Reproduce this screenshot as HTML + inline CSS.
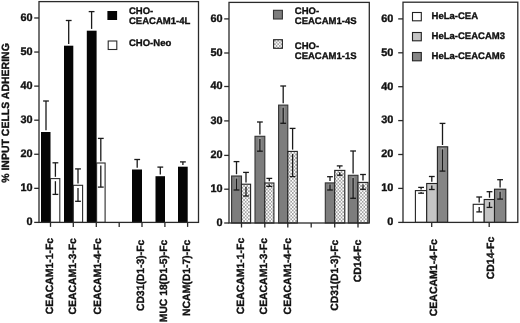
<!DOCTYPE html><html><head><meta charset="utf-8"><style>html,body{margin:0;padding:0;background:#fff;}svg{display:block;filter:grayscale(1);}</style></head><body>
<svg width="520" height="323" viewBox="0 0 520 323">
<defs><pattern id="dots" patternUnits="userSpaceOnUse" x="0.3" y="0.5" width="3.25" height="3.5"><rect width="3.25" height="3.5" fill="#fff"/><circle cx="1.625" cy="1.75" r="0.72" fill="#3a3a3a"/><circle cx="0" cy="0" r="0.72" fill="#3a3a3a"/><circle cx="3.25" cy="0" r="0.72" fill="#3a3a3a"/><circle cx="0" cy="3.5" r="0.72" fill="#3a3a3a"/><circle cx="3.25" cy="3.5" r="0.72" fill="#3a3a3a"/></pattern></defs>
<rect width="520" height="323" fill="#fff"/>
<rect x="41" y="132" width="9.50" height="90.40" fill="#050505"/>
<rect x="50.5" y="178.6" width="9.30" height="43.80" fill="#fff" stroke="#2a2a2a" stroke-width="1.1"/>
<line x1="43.10" y1="101" x2="48.90" y2="101" stroke="#1a1a1a" stroke-width="1.3"/>
<line x1="46" y1="101" x2="46" y2="130.20" stroke="#1a1a1a" stroke-width="1.3"/>
<line x1="52.50" y1="162.8" x2="58.30" y2="162.8" stroke="#1a1a1a" stroke-width="1.3"/>
<line x1="55.4" y1="162.8" x2="55.4" y2="176.80" stroke="#1a1a1a" stroke-width="1.3"/>
<line x1="55.4" y1="181.20" x2="55.4" y2="194.4" stroke="#1a1a1a" stroke-width="1.3"/>
<line x1="52.50" y1="194.4" x2="58.30" y2="194.4" stroke="#1a1a1a" stroke-width="1.3"/>
<rect x="64" y="45.7" width="9.30" height="176.70" fill="#050505"/>
<rect x="73.3" y="185.3" width="9.30" height="37.10" fill="#fff" stroke="#2a2a2a" stroke-width="1.1"/>
<line x1="65.80" y1="20.5" x2="71.60" y2="20.5" stroke="#1a1a1a" stroke-width="1.3"/>
<line x1="68.7" y1="20.5" x2="68.7" y2="43.90" stroke="#1a1a1a" stroke-width="1.3"/>
<line x1="75.10" y1="168.9" x2="80.90" y2="168.9" stroke="#1a1a1a" stroke-width="1.3"/>
<line x1="78" y1="168.9" x2="78" y2="183.50" stroke="#1a1a1a" stroke-width="1.3"/>
<line x1="78" y1="187.90" x2="78" y2="201.3" stroke="#1a1a1a" stroke-width="1.3"/>
<line x1="75.10" y1="201.3" x2="80.90" y2="201.3" stroke="#1a1a1a" stroke-width="1.3"/>
<rect x="86.8" y="30.7" width="9.80" height="191.70" fill="#050505"/>
<rect x="96.6" y="163" width="8.50" height="59.40" fill="#fff" stroke="#2a2a2a" stroke-width="1.1"/>
<line x1="88.70" y1="11.6" x2="94.50" y2="11.6" stroke="#1a1a1a" stroke-width="1.3"/>
<line x1="91.6" y1="11.6" x2="91.6" y2="28.90" stroke="#1a1a1a" stroke-width="1.3"/>
<line x1="97.90" y1="138.4" x2="103.70" y2="138.4" stroke="#1a1a1a" stroke-width="1.3"/>
<line x1="100.8" y1="138.4" x2="100.8" y2="161.20" stroke="#1a1a1a" stroke-width="1.3"/>
<line x1="100.8" y1="165.60" x2="100.8" y2="187.1" stroke="#1a1a1a" stroke-width="1.3"/>
<line x1="97.90" y1="187.1" x2="103.70" y2="187.1" stroke="#1a1a1a" stroke-width="1.3"/>
<rect x="132" y="169.5" width="10.00" height="52.90" fill="#050505"/>
<line x1="134.30" y1="159.5" x2="140.10" y2="159.5" stroke="#1a1a1a" stroke-width="1.3"/>
<line x1="137.2" y1="159.5" x2="137.2" y2="167.70" stroke="#1a1a1a" stroke-width="1.3"/>
<rect x="155.5" y="176.2" width="9.50" height="46.20" fill="#050505"/>
<line x1="157.40" y1="167.1" x2="163.20" y2="167.1" stroke="#1a1a1a" stroke-width="1.3"/>
<line x1="160.3" y1="167.1" x2="160.3" y2="174.40" stroke="#1a1a1a" stroke-width="1.3"/>
<rect x="178" y="166.7" width="9.70" height="55.70" fill="#050505"/>
<line x1="180.00" y1="161.9" x2="185.80" y2="161.9" stroke="#1a1a1a" stroke-width="1.3"/>
<line x1="182.9" y1="161.9" x2="182.9" y2="164.90" stroke="#1a1a1a" stroke-width="1.3"/>
<rect x="39" y="1.6" width="159.5" height="220.8" fill="none" stroke="#2a2a2a" stroke-width="1.3"/>
<line x1="34.2" y1="17.97999999999999" x2="39" y2="17.97999999999999" stroke="#2a2a2a" stroke-width="1.3"/>
<text x="32.5" y="20.77999999999999" font-size="10.9" text-anchor="end" font-family="Liberation Sans, sans-serif" font-weight="bold" text-rendering="geometricPrecision" stroke="#111" stroke-width="0.35" fill="#111" >60</text>
<line x1="34.2" y1="52.05000000000001" x2="39" y2="52.05000000000001" stroke="#2a2a2a" stroke-width="1.3"/>
<text x="32.5" y="54.85000000000001" font-size="10.9" text-anchor="end" font-family="Liberation Sans, sans-serif" font-weight="bold" text-rendering="geometricPrecision" stroke="#111" stroke-width="0.35" fill="#111" >50</text>
<line x1="34.2" y1="86.12" x2="39" y2="86.12" stroke="#2a2a2a" stroke-width="1.3"/>
<text x="32.5" y="88.92" font-size="10.9" text-anchor="end" font-family="Liberation Sans, sans-serif" font-weight="bold" text-rendering="geometricPrecision" stroke="#111" stroke-width="0.35" fill="#111" >40</text>
<line x1="34.2" y1="120.19" x2="39" y2="120.19" stroke="#2a2a2a" stroke-width="1.3"/>
<text x="32.5" y="122.99" font-size="10.9" text-anchor="end" font-family="Liberation Sans, sans-serif" font-weight="bold" text-rendering="geometricPrecision" stroke="#111" stroke-width="0.35" fill="#111" >30</text>
<line x1="34.2" y1="154.26" x2="39" y2="154.26" stroke="#2a2a2a" stroke-width="1.3"/>
<text x="32.5" y="157.06" font-size="10.9" text-anchor="end" font-family="Liberation Sans, sans-serif" font-weight="bold" text-rendering="geometricPrecision" stroke="#111" stroke-width="0.35" fill="#111" >20</text>
<line x1="34.2" y1="188.33" x2="39" y2="188.33" stroke="#2a2a2a" stroke-width="1.3"/>
<text x="32.5" y="191.13000000000002" font-size="10.9" text-anchor="end" font-family="Liberation Sans, sans-serif" font-weight="bold" text-rendering="geometricPrecision" stroke="#111" stroke-width="0.35" fill="#111" >10</text>
<line x1="34.2" y1="222.4" x2="39" y2="222.4" stroke="#2a2a2a" stroke-width="1.3"/>
<text x="32.5" y="225.20000000000002" font-size="10.9" text-anchor="end" font-family="Liberation Sans, sans-serif" font-weight="bold" text-rendering="geometricPrecision" stroke="#111" stroke-width="0.35" fill="#111" >0</text>
<line x1="50.5" y1="222.4" x2="50.5" y2="226.9" stroke="#2a2a2a" stroke-width="1.3"/>
<line x1="73.3" y1="222.4" x2="73.3" y2="226.9" stroke="#2a2a2a" stroke-width="1.3"/>
<line x1="96.3" y1="222.4" x2="96.3" y2="226.9" stroke="#2a2a2a" stroke-width="1.3"/>
<line x1="119.2" y1="222.4" x2="119.2" y2="226.9" stroke="#2a2a2a" stroke-width="1.3"/>
<line x1="142" y1="222.4" x2="142" y2="226.9" stroke="#2a2a2a" stroke-width="1.3"/>
<line x1="164.9" y1="222.4" x2="164.9" y2="226.9" stroke="#2a2a2a" stroke-width="1.3"/>
<line x1="187.6" y1="222.4" x2="187.6" y2="226.9" stroke="#2a2a2a" stroke-width="1.3"/>
<rect x="107.4" y="11" width="9.70" height="9.00" fill="#050505"/>
<rect x="108.2" y="41" width="8.60" height="8.50" fill="#fff" stroke="#2a2a2a" stroke-width="1.1"/>
<text transform="translate(129,13.95) scale(1.0,1.0)" font-size="9.5" font-family="Liberation Sans, sans-serif" font-weight="bold" text-rendering="geometricPrecision" stroke="#111" stroke-width="0.35" fill="#111">CHO-</text>
<text transform="translate(129,23.7) scale(1.0,1.0)" font-size="9.5" font-family="Liberation Sans, sans-serif" font-weight="bold" text-rendering="geometricPrecision" stroke="#111" stroke-width="0.35" fill="#111">CEACAM1-4L</text>
<text transform="translate(129,46.4) scale(1.0,1.0)" font-size="9.5" font-family="Liberation Sans, sans-serif" font-weight="bold" text-rendering="geometricPrecision" stroke="#111" stroke-width="0.35" fill="#111">CHO-Neo</text>
<rect x="231.6" y="176" width="9.90" height="47.00" fill="#7d7d7d" stroke="#333" stroke-width="1.1"/>
<rect x="241.5" y="184.2" width="9.10" height="38.80" fill="url(#dots)" stroke="#222" stroke-width="1.1"/>
<line x1="233.60" y1="161.6" x2="239.40" y2="161.6" stroke="#1a1a1a" stroke-width="1.3"/>
<line x1="236.5" y1="161.6" x2="236.5" y2="174.20" stroke="#1a1a1a" stroke-width="1.3"/>
<line x1="236.5" y1="177.20" x2="236.5" y2="189.00" stroke="#939393" stroke-width="3.2"/>
<line x1="236.5" y1="178.60" x2="236.5" y2="190" stroke="#1a1a1a" stroke-width="1.3"/>
<line x1="233.60" y1="190" x2="239.40" y2="190" stroke="#1a1a1a" stroke-width="1.3"/>
<line x1="243.10" y1="172.4" x2="248.90" y2="172.4" stroke="#1a1a1a" stroke-width="1.3"/>
<line x1="246" y1="172.4" x2="246" y2="182.40" stroke="#1a1a1a" stroke-width="1.3"/>
<line x1="246" y1="186.80" x2="246" y2="196.0" stroke="#1a1a1a" stroke-width="1.3"/>
<line x1="243.10" y1="196.0" x2="248.90" y2="196.0" stroke="#1a1a1a" stroke-width="1.3"/>
<rect x="255" y="136.3" width="9.80" height="86.70" fill="#7d7d7d" stroke="#333" stroke-width="1.1"/>
<rect x="264.8" y="183.0" width="9.10" height="40.00" fill="url(#dots)" stroke="#222" stroke-width="1.1"/>
<line x1="257.00" y1="122" x2="262.80" y2="122" stroke="#1a1a1a" stroke-width="1.3"/>
<line x1="259.9" y1="122" x2="259.9" y2="134.50" stroke="#1a1a1a" stroke-width="1.3"/>
<line x1="259.9" y1="137.50" x2="259.9" y2="150.20" stroke="#939393" stroke-width="3.2"/>
<line x1="259.9" y1="138.90" x2="259.9" y2="151.2" stroke="#1a1a1a" stroke-width="1.3"/>
<line x1="257.00" y1="151.2" x2="262.80" y2="151.2" stroke="#1a1a1a" stroke-width="1.3"/>
<line x1="266.40" y1="178.4" x2="272.20" y2="178.4" stroke="#1a1a1a" stroke-width="1.3"/>
<line x1="269.3" y1="178.4" x2="269.3" y2="181.20" stroke="#1a1a1a" stroke-width="1.3"/>
<line x1="269.3" y1="184.20" x2="269.3" y2="186.4" stroke="#1a1a1a" stroke-width="1.3"/>
<line x1="266.40" y1="186.4" x2="272.20" y2="186.4" stroke="#1a1a1a" stroke-width="1.3"/>
<rect x="278.6" y="105.1" width="9.20" height="117.90" fill="#7d7d7d" stroke="#333" stroke-width="1.1"/>
<rect x="287.8" y="151.4" width="9.50" height="71.60" fill="url(#dots)" stroke="#222" stroke-width="1.1"/>
<line x1="280.30" y1="86" x2="286.10" y2="86" stroke="#1a1a1a" stroke-width="1.3"/>
<line x1="283.2" y1="86" x2="283.2" y2="103.30" stroke="#1a1a1a" stroke-width="1.3"/>
<line x1="283.2" y1="106.30" x2="283.2" y2="122.30" stroke="#939393" stroke-width="3.2"/>
<line x1="283.2" y1="107.70" x2="283.2" y2="123.3" stroke="#1a1a1a" stroke-width="1.3"/>
<line x1="280.30" y1="123.3" x2="286.10" y2="123.3" stroke="#1a1a1a" stroke-width="1.3"/>
<line x1="289.70" y1="128.4" x2="295.50" y2="128.4" stroke="#1a1a1a" stroke-width="1.3"/>
<line x1="292.6" y1="128.4" x2="292.6" y2="149.60" stroke="#1a1a1a" stroke-width="1.3"/>
<line x1="292.6" y1="154.00" x2="292.6" y2="176.6" stroke="#1a1a1a" stroke-width="1.3"/>
<line x1="289.70" y1="176.6" x2="295.50" y2="176.6" stroke="#1a1a1a" stroke-width="1.3"/>
<rect x="325.3" y="182.9" width="9.40" height="40.10" fill="#7d7d7d" stroke="#333" stroke-width="1.1"/>
<rect x="334.7" y="170.4" width="10.10" height="52.60" fill="url(#dots)" stroke="#222" stroke-width="1.1"/>
<line x1="327.10" y1="176.7" x2="332.90" y2="176.7" stroke="#1a1a1a" stroke-width="1.3"/>
<line x1="330" y1="176.7" x2="330" y2="181.10" stroke="#1a1a1a" stroke-width="1.3"/>
<line x1="330" y1="184.10" x2="330" y2="189.00" stroke="#939393" stroke-width="3.2"/>
<line x1="330" y1="184.40" x2="330" y2="190" stroke="#1a1a1a" stroke-width="1.3"/>
<line x1="327.10" y1="190" x2="332.90" y2="190" stroke="#1a1a1a" stroke-width="1.3"/>
<line x1="336.80" y1="165.9" x2="342.60" y2="165.9" stroke="#1a1a1a" stroke-width="1.3"/>
<line x1="339.7" y1="165.9" x2="339.7" y2="168.60" stroke="#1a1a1a" stroke-width="1.3"/>
<line x1="339.7" y1="172.20" x2="339.7" y2="175.2" stroke="#1a1a1a" stroke-width="1.3"/>
<line x1="336.80" y1="175.2" x2="342.60" y2="175.2" stroke="#1a1a1a" stroke-width="1.3"/>
<rect x="348.3" y="175.3" width="9.70" height="47.70" fill="#7d7d7d" stroke="#333" stroke-width="1.1"/>
<rect x="358" y="182.4" width="10.00" height="40.60" fill="url(#dots)" stroke="#222" stroke-width="1.1"/>
<line x1="350.20" y1="151" x2="356.00" y2="151" stroke="#1a1a1a" stroke-width="1.3"/>
<line x1="353.1" y1="151" x2="353.1" y2="173.50" stroke="#1a1a1a" stroke-width="1.3"/>
<line x1="353.1" y1="176.50" x2="353.1" y2="197.30" stroke="#939393" stroke-width="3.2"/>
<line x1="353.1" y1="177.90" x2="353.1" y2="198.3" stroke="#1a1a1a" stroke-width="1.3"/>
<line x1="350.20" y1="198.3" x2="356.00" y2="198.3" stroke="#1a1a1a" stroke-width="1.3"/>
<line x1="360.10" y1="174.5" x2="365.90" y2="174.5" stroke="#1a1a1a" stroke-width="1.3"/>
<line x1="363" y1="174.5" x2="363" y2="180.60" stroke="#1a1a1a" stroke-width="1.3"/>
<line x1="363" y1="184.40" x2="363" y2="189.3" stroke="#1a1a1a" stroke-width="1.3"/>
<line x1="360.10" y1="189.3" x2="365.90" y2="189.3" stroke="#1a1a1a" stroke-width="1.3"/>
<rect x="229" y="2.4" width="140.3" height="220.6" fill="none" stroke="#2a2a2a" stroke-width="1.3"/>
<line x1="224.2" y1="18.9" x2="229" y2="18.9" stroke="#2a2a2a" stroke-width="1.3"/>
<text x="222.5" y="21.7" font-size="10.9" text-anchor="end" font-family="Liberation Sans, sans-serif" font-weight="bold" text-rendering="geometricPrecision" stroke="#111" stroke-width="0.35" fill="#111" >60</text>
<line x1="224.2" y1="53" x2="229" y2="53" stroke="#2a2a2a" stroke-width="1.3"/>
<text x="222.5" y="55.8" font-size="10.9" text-anchor="end" font-family="Liberation Sans, sans-serif" font-weight="bold" text-rendering="geometricPrecision" stroke="#111" stroke-width="0.35" fill="#111" >50</text>
<line x1="224.2" y1="86.5" x2="229" y2="86.5" stroke="#2a2a2a" stroke-width="1.3"/>
<text x="222.5" y="89.3" font-size="10.9" text-anchor="end" font-family="Liberation Sans, sans-serif" font-weight="bold" text-rendering="geometricPrecision" stroke="#111" stroke-width="0.35" fill="#111" >40</text>
<line x1="224.2" y1="120.9" x2="229" y2="120.9" stroke="#2a2a2a" stroke-width="1.3"/>
<text x="222.5" y="123.7" font-size="10.9" text-anchor="end" font-family="Liberation Sans, sans-serif" font-weight="bold" text-rendering="geometricPrecision" stroke="#111" stroke-width="0.35" fill="#111" >30</text>
<line x1="224.2" y1="155.4" x2="229" y2="155.4" stroke="#2a2a2a" stroke-width="1.3"/>
<text x="222.5" y="158.20000000000002" font-size="10.9" text-anchor="end" font-family="Liberation Sans, sans-serif" font-weight="bold" text-rendering="geometricPrecision" stroke="#111" stroke-width="0.35" fill="#111" >20</text>
<line x1="224.2" y1="189.2" x2="229" y2="189.2" stroke="#2a2a2a" stroke-width="1.3"/>
<text x="222.5" y="192.0" font-size="10.9" text-anchor="end" font-family="Liberation Sans, sans-serif" font-weight="bold" text-rendering="geometricPrecision" stroke="#111" stroke-width="0.35" fill="#111" >10</text>
<line x1="224.2" y1="223" x2="229" y2="223" stroke="#2a2a2a" stroke-width="1.3"/>
<text x="222.5" y="225.8" font-size="10.9" text-anchor="end" font-family="Liberation Sans, sans-serif" font-weight="bold" text-rendering="geometricPrecision" stroke="#111" stroke-width="0.35" fill="#111" >0</text>
<line x1="241.5" y1="223" x2="241.5" y2="227.5" stroke="#2a2a2a" stroke-width="1.3"/>
<line x1="264.8" y1="223" x2="264.8" y2="227.5" stroke="#2a2a2a" stroke-width="1.3"/>
<line x1="287.8" y1="223" x2="287.8" y2="227.5" stroke="#2a2a2a" stroke-width="1.3"/>
<line x1="311.2" y1="223" x2="311.2" y2="227.5" stroke="#2a2a2a" stroke-width="1.3"/>
<line x1="334.7" y1="223" x2="334.7" y2="227.5" stroke="#2a2a2a" stroke-width="1.3"/>
<line x1="358" y1="223" x2="358" y2="227.5" stroke="#2a2a2a" stroke-width="1.3"/>
<rect x="273.5" y="10.3" width="8.90" height="8.70" fill="#7d7d7d" stroke="#333" stroke-width="1.1"/>
<rect x="273.6" y="39.7" width="8.80" height="8.60" fill="url(#dots)" stroke="#222" stroke-width="1.1"/>
<text transform="translate(294.8,13.8) scale(1.0,1.0)" font-size="9.5" font-family="Liberation Sans, sans-serif" font-weight="bold" text-rendering="geometricPrecision" stroke="#111" stroke-width="0.35" fill="#111">CHO-</text>
<text transform="translate(294.8,23.6) scale(1.0,1.0)" font-size="9.5" font-family="Liberation Sans, sans-serif" font-weight="bold" text-rendering="geometricPrecision" stroke="#111" stroke-width="0.35" fill="#111">CEACAM1-4S</text>
<text transform="translate(294.8,48.8) scale(1.0,1.0)" font-size="9.5" font-family="Liberation Sans, sans-serif" font-weight="bold" text-rendering="geometricPrecision" stroke="#111" stroke-width="0.35" fill="#111">CHO-</text>
<text transform="translate(294.8,58.8) scale(1.0,1.0)" font-size="9.5" font-family="Liberation Sans, sans-serif" font-weight="bold" text-rendering="geometricPrecision" stroke="#111" stroke-width="0.35" fill="#111">CEACAM1-1S</text>
<rect x="415.4" y="190.6" width="11.30" height="31.80" fill="#fff" stroke="#222" stroke-width="1.1"/>
<rect x="426.7" y="183.5" width="10.70" height="38.90" fill="#c4c4c4" stroke="#222" stroke-width="1.1"/>
<rect x="437.4" y="146.8" width="10.30" height="75.60" fill="#858585" stroke="#222" stroke-width="1.1"/>
<line x1="418.20" y1="187.4" x2="424.00" y2="187.4" stroke="#1a1a1a" stroke-width="1.3"/>
<line x1="421.1" y1="187.4" x2="421.1" y2="189.40" stroke="#1a1a1a" stroke-width="1.3"/>
<line x1="421.1" y1="191.90" x2="421.1" y2="193.2" stroke="#1a1a1a" stroke-width="1.3"/>
<line x1="418.20" y1="193.2" x2="424.00" y2="193.2" stroke="#1a1a1a" stroke-width="1.3"/>
<line x1="428.90" y1="176.5" x2="434.70" y2="176.5" stroke="#1a1a1a" stroke-width="1.3"/>
<line x1="431.8" y1="176.5" x2="431.8" y2="181.70" stroke="#1a1a1a" stroke-width="1.3"/>
<line x1="431.8" y1="185.50" x2="431.8" y2="189.5" stroke="#1a1a1a" stroke-width="1.3"/>
<line x1="428.90" y1="189.5" x2="434.70" y2="189.5" stroke="#1a1a1a" stroke-width="1.3"/>
<line x1="439.60" y1="123.4" x2="445.40" y2="123.4" stroke="#1a1a1a" stroke-width="1.3"/>
<line x1="442.5" y1="123.4" x2="442.5" y2="145.00" stroke="#1a1a1a" stroke-width="1.3"/>
<line x1="442.5" y1="148.00" x2="442.5" y2="170.10" stroke="#9a9a9a" stroke-width="3.2"/>
<line x1="442.5" y1="149.40" x2="442.5" y2="171.1" stroke="#1a1a1a" stroke-width="1.3"/>
<line x1="439.60" y1="171.1" x2="445.40" y2="171.1" stroke="#1a1a1a" stroke-width="1.3"/>
<rect x="473.2" y="204.3" width="11.00" height="18.10" fill="#fff" stroke="#222" stroke-width="1.1"/>
<rect x="484.2" y="199.5" width="10.30" height="22.90" fill="#c4c4c4" stroke="#222" stroke-width="1.1"/>
<rect x="494.5" y="189.2" width="11.30" height="33.20" fill="#858585" stroke="#222" stroke-width="1.1"/>
<line x1="476.30" y1="197" x2="482.10" y2="197" stroke="#1a1a1a" stroke-width="1.3"/>
<line x1="479.2" y1="197" x2="479.2" y2="202.50" stroke="#1a1a1a" stroke-width="1.3"/>
<line x1="479.2" y1="206.90" x2="479.2" y2="211.9" stroke="#1a1a1a" stroke-width="1.3"/>
<line x1="476.30" y1="211.9" x2="482.10" y2="211.9" stroke="#1a1a1a" stroke-width="1.3"/>
<line x1="486.60" y1="191.7" x2="492.40" y2="191.7" stroke="#1a1a1a" stroke-width="1.3"/>
<line x1="489.5" y1="191.7" x2="489.5" y2="197.70" stroke="#1a1a1a" stroke-width="1.3"/>
<line x1="489.5" y1="202.10" x2="489.5" y2="207.4" stroke="#1a1a1a" stroke-width="1.3"/>
<line x1="486.60" y1="207.4" x2="492.40" y2="207.4" stroke="#1a1a1a" stroke-width="1.3"/>
<line x1="497.20" y1="179.7" x2="503.00" y2="179.7" stroke="#1a1a1a" stroke-width="1.3"/>
<line x1="500.1" y1="179.7" x2="500.1" y2="187.40" stroke="#1a1a1a" stroke-width="1.3"/>
<line x1="500.1" y1="190.40" x2="500.1" y2="198.10" stroke="#9a9a9a" stroke-width="3.2"/>
<line x1="500.1" y1="191.80" x2="500.1" y2="199.1" stroke="#1a1a1a" stroke-width="1.3"/>
<line x1="497.20" y1="199.1" x2="503.00" y2="199.1" stroke="#1a1a1a" stroke-width="1.3"/>
<rect x="403" y="2.2" width="114.79999999999995" height="220.20000000000002" fill="none" stroke="#2a2a2a" stroke-width="1.3"/>
<line x1="398.2" y1="18.9" x2="403" y2="18.9" stroke="#2a2a2a" stroke-width="1.3"/>
<text x="393.40000000000003" y="21.7" font-size="10.9" text-anchor="end" font-family="Liberation Sans, sans-serif" font-weight="bold" text-rendering="geometricPrecision" stroke="#111" stroke-width="0.35" fill="#111" >60</text>
<line x1="398.2" y1="52.8" x2="403" y2="52.8" stroke="#2a2a2a" stroke-width="1.3"/>
<text x="393.40000000000003" y="55.599999999999994" font-size="10.9" text-anchor="end" font-family="Liberation Sans, sans-serif" font-weight="bold" text-rendering="geometricPrecision" stroke="#111" stroke-width="0.35" fill="#111" >50</text>
<line x1="398.2" y1="86.7" x2="403" y2="86.7" stroke="#2a2a2a" stroke-width="1.3"/>
<text x="393.40000000000003" y="89.5" font-size="10.9" text-anchor="end" font-family="Liberation Sans, sans-serif" font-weight="bold" text-rendering="geometricPrecision" stroke="#111" stroke-width="0.35" fill="#111" >40</text>
<line x1="398.2" y1="120.6" x2="403" y2="120.6" stroke="#2a2a2a" stroke-width="1.3"/>
<text x="393.40000000000003" y="123.39999999999999" font-size="10.9" text-anchor="end" font-family="Liberation Sans, sans-serif" font-weight="bold" text-rendering="geometricPrecision" stroke="#111" stroke-width="0.35" fill="#111" >30</text>
<line x1="398.2" y1="154.5" x2="403" y2="154.5" stroke="#2a2a2a" stroke-width="1.3"/>
<text x="393.40000000000003" y="157.3" font-size="10.9" text-anchor="end" font-family="Liberation Sans, sans-serif" font-weight="bold" text-rendering="geometricPrecision" stroke="#111" stroke-width="0.35" fill="#111" >20</text>
<line x1="398.2" y1="188.4" x2="403" y2="188.4" stroke="#2a2a2a" stroke-width="1.3"/>
<text x="393.40000000000003" y="191.20000000000002" font-size="10.9" text-anchor="end" font-family="Liberation Sans, sans-serif" font-weight="bold" text-rendering="geometricPrecision" stroke="#111" stroke-width="0.35" fill="#111" >10</text>
<line x1="398.2" y1="222.4" x2="403" y2="222.4" stroke="#2a2a2a" stroke-width="1.3"/>
<text x="393.40000000000003" y="225.20000000000002" font-size="10.9" text-anchor="end" font-family="Liberation Sans, sans-serif" font-weight="bold" text-rendering="geometricPrecision" stroke="#111" stroke-width="0.35" fill="#111" >0</text>
<line x1="431.7" y1="222.4" x2="431.7" y2="226.9" stroke="#2a2a2a" stroke-width="1.3"/>
<line x1="489.2" y1="222.4" x2="489.2" y2="226.9" stroke="#2a2a2a" stroke-width="1.3"/>
<rect x="412.5" y="12.5" width="8.80" height="8.30" fill="#fff" stroke="#222" stroke-width="1.1"/>
<rect x="412.5" y="32.5" width="8.80" height="8.30" fill="#c4c4c4" stroke="#222" stroke-width="1.1"/>
<rect x="412.5" y="52.5" width="8.80" height="8.30" fill="#858585" stroke="#222" stroke-width="1.1"/>
<text transform="translate(431.6,18.8) scale(1.0,1.0)" font-size="9.5" font-family="Liberation Sans, sans-serif" font-weight="bold" text-rendering="geometricPrecision" stroke="#111" stroke-width="0.35" fill="#111">HeLa-CEA</text>
<text transform="translate(431.6,38.9) scale(1.0,1.0)" font-size="9.5" font-family="Liberation Sans, sans-serif" font-weight="bold" text-rendering="geometricPrecision" stroke="#111" stroke-width="0.35" fill="#111">HeLa-CEACAM3</text>
<text transform="translate(431.6,58.8) scale(1.0,1.0)" font-size="9.5" font-family="Liberation Sans, sans-serif" font-weight="bold" text-rendering="geometricPrecision" stroke="#111" stroke-width="0.35" fill="#111">HeLa-CEACAM6</text>
<text transform="translate(8.9,113) rotate(-90)" font-size="10.5" text-anchor="middle" font-family="Liberation Sans, sans-serif" font-weight="bold" text-rendering="geometricPrecision" stroke="#111" stroke-width="0.35" fill="#111">% INPUT CELLS ADHERING</text>
<text transform="translate(53.3,237.9) rotate(-90)" font-size="10.5" text-anchor="end" font-family="Liberation Sans, sans-serif" font-weight="bold" text-rendering="geometricPrecision" stroke="#111" stroke-width="0.35" fill="#111" textLength="76.4" lengthAdjust="spacingAndGlyphs">CEACAM1-1-Fc</text>
<text transform="translate(76.3,238.1) rotate(-90)" font-size="10.5" text-anchor="end" font-family="Liberation Sans, sans-serif" font-weight="bold" text-rendering="geometricPrecision" stroke="#111" stroke-width="0.35" fill="#111" textLength="76.4" lengthAdjust="spacingAndGlyphs">CEACAM1-3-Fc</text>
<text transform="translate(100.6,238.1) rotate(-90)" font-size="10.5" text-anchor="end" font-family="Liberation Sans, sans-serif" font-weight="bold" text-rendering="geometricPrecision" stroke="#111" stroke-width="0.35" fill="#111" textLength="76.4" lengthAdjust="spacingAndGlyphs">CEACAM1-4-Fc</text>
<text transform="translate(143.9,239.7) rotate(-90)" font-size="10.5" text-anchor="end" font-family="Liberation Sans, sans-serif" font-weight="bold" text-rendering="geometricPrecision" stroke="#111" stroke-width="0.35" fill="#111" textLength="71.4" lengthAdjust="spacingAndGlyphs">CD31(D1-3)-Fc</text>
<text transform="translate(167.1,239.7) rotate(-90)" font-size="10.5" text-anchor="end" font-family="Liberation Sans, sans-serif" font-weight="bold" text-rendering="geometricPrecision" stroke="#111" stroke-width="0.35" fill="#111" textLength="82.5" lengthAdjust="spacingAndGlyphs">MUC 18(D1-5)-Fc</text>
<text transform="translate(189.8,239.7) rotate(-90)" font-size="10.5" text-anchor="end" font-family="Liberation Sans, sans-serif" font-weight="bold" text-rendering="geometricPrecision" stroke="#111" stroke-width="0.35" fill="#111" textLength="76.4" lengthAdjust="spacingAndGlyphs">NCAM(D1-7)-Fc</text>
<text transform="translate(243.6,237.8) rotate(-90)" font-size="10.5" text-anchor="end" font-family="Liberation Sans, sans-serif" font-weight="bold" text-rendering="geometricPrecision" stroke="#111" stroke-width="0.35" fill="#111" textLength="76.4" lengthAdjust="spacingAndGlyphs">CEACAM1-1-Fc</text>
<text transform="translate(267,238.0) rotate(-90)" font-size="10.5" text-anchor="end" font-family="Liberation Sans, sans-serif" font-weight="bold" text-rendering="geometricPrecision" stroke="#111" stroke-width="0.35" fill="#111" textLength="76.4" lengthAdjust="spacingAndGlyphs">CEACAM1-3-Fc</text>
<text transform="translate(290.5,238.0) rotate(-90)" font-size="10.5" text-anchor="end" font-family="Liberation Sans, sans-serif" font-weight="bold" text-rendering="geometricPrecision" stroke="#111" stroke-width="0.35" fill="#111" textLength="76.4" lengthAdjust="spacingAndGlyphs">CEACAM1-4-Fc</text>
<text transform="translate(338,239.7) rotate(-90)" font-size="10.5" text-anchor="end" font-family="Liberation Sans, sans-serif" font-weight="bold" text-rendering="geometricPrecision" stroke="#111" stroke-width="0.35" fill="#111" textLength="71.0" lengthAdjust="spacingAndGlyphs">CD31(D1-3)-Fc</text>
<text transform="translate(360.7,239.7) rotate(-90)" font-size="10.5" text-anchor="end" font-family="Liberation Sans, sans-serif" font-weight="bold" text-rendering="geometricPrecision" stroke="#111" stroke-width="0.35" fill="#111">CD14-Fc</text>
<text transform="translate(437.3,239.2) rotate(-90)" font-size="10.5" text-anchor="end" font-family="Liberation Sans, sans-serif" font-weight="bold" text-rendering="geometricPrecision" stroke="#111" stroke-width="0.35" fill="#111">CEACAM1-4-Fc</text>
<text transform="translate(494.4,236.7) rotate(-90)" font-size="10.5" text-anchor="end" font-family="Liberation Sans, sans-serif" font-weight="bold" text-rendering="geometricPrecision" stroke="#111" stroke-width="0.35" fill="#111">CD14-Fc</text>
</svg></body></html>
